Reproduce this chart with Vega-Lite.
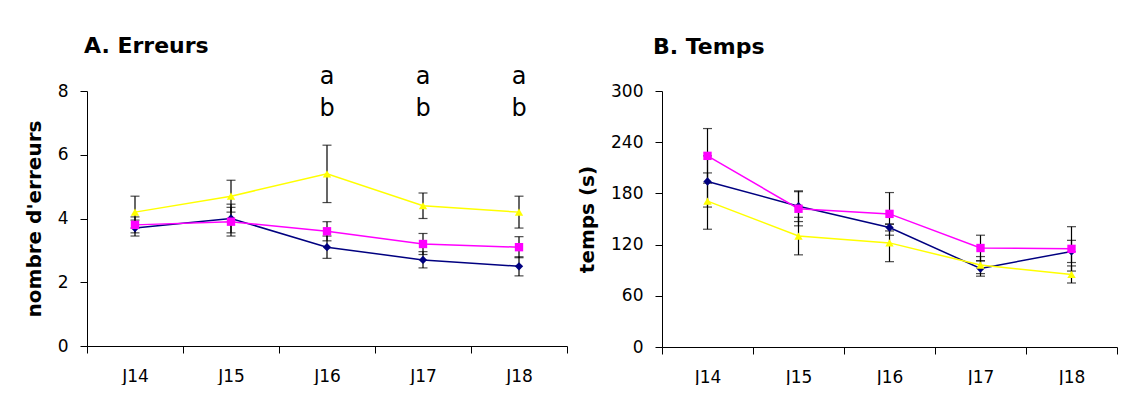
{
  "$schema": "https://vega.github.io/schema/vega-lite/v6.json",
  "padding": {"left": 24, "top": 34, "right": 0, "bottom": 0},
  "background": "white",
  "spacing": 9,
  "config": {
    "view": {"stroke": null},
    "font": "DejaVu Sans",
    "axis": {
      "domainColor": "black", "tickColor": "black", "labelColor": "black", "titleColor": "black",
      "labelFont": "DejaVu Sans", "labelFontSize": 17, "titleFont": "DejaVu Sans", "titleFontSize": 20,
      "titleFontWeight": "bold", "grid": false, "tickSize": 7, "domainWidth": 1, "tickWidth": 1
    },
    "title": {"font": "DejaVu Sans", "fontSize": 22, "fontWeight": "bold", "color": "black", "anchor": "start", "frame": "group"}
  },
  "datasets": {
    "A": [
      {"day": "J14", "grp": "G1", "mean": 3.7, "lo": 3.45, "hi": 3.95},
      {"day": "J15", "grp": "G1", "mean": 4.0, "lo": 3.55, "hi": 4.45},
      {"day": "J16", "grp": "G1", "mean": 3.1, "lo": 2.75, "hi": 3.45},
      {"day": "J17", "grp": "G1", "mean": 2.7, "lo": 2.45, "hi": 2.96},
      {"day": "J18", "grp": "G1", "mean": 2.5, "lo": 2.2, "hi": 2.8},
      {"day": "J14", "grp": "G2", "mean": 3.8, "lo": 3.55, "hi": 4.05},
      {"day": "J15", "grp": "G2", "mean": 3.9, "lo": 3.45, "hi": 4.35},
      {"day": "J16", "grp": "G2", "mean": 3.6, "lo": 3.3, "hi": 3.9},
      {"day": "J17", "grp": "G2", "mean": 3.2, "lo": 2.87, "hi": 3.53},
      {"day": "J18", "grp": "G2", "mean": 3.1, "lo": 2.77, "hi": 3.43},
      {"day": "J14", "grp": "G3", "mean": 4.2, "lo": 3.7, "hi": 4.7},
      {"day": "J15", "grp": "G3", "mean": 4.7, "lo": 4.2, "hi": 5.2},
      {"day": "J16", "grp": "G3", "mean": 5.4, "lo": 4.5, "hi": 6.3},
      {"day": "J17", "grp": "G3", "mean": 4.4, "lo": 4.0, "hi": 4.8},
      {"day": "J18", "grp": "G3", "mean": 4.2, "lo": 3.7, "hi": 4.7}
    ],
    "B": [
      {"day": "J14", "grp": "G1", "mean": 194, "lo": 164, "hi": 224},
      {"day": "J15", "grp": "G1", "mean": 165, "lo": 147, "hi": 183},
      {"day": "J16", "grp": "G1", "mean": 140, "lo": 136, "hi": 144},
      {"day": "J17", "grp": "G1", "mean": 92, "lo": 83, "hi": 101},
      {"day": "J18", "grp": "G1", "mean": 112, "lo": 99, "hi": 125},
      {"day": "J14", "grp": "G2", "mean": 224, "lo": 192, "hi": 256},
      {"day": "J15", "grp": "G2", "mean": 162, "lo": 142, "hi": 182},
      {"day": "J16", "grp": "G2", "mean": 156, "lo": 131, "hi": 181},
      {"day": "J17", "grp": "G2", "mean": 116, "lo": 101, "hi": 131},
      {"day": "J18", "grp": "G2", "mean": 115, "lo": 89, "hi": 141},
      {"day": "J14", "grp": "G3", "mean": 171, "lo": 138, "hi": 204},
      {"day": "J15", "grp": "G3", "mean": 130, "lo": 108, "hi": 152},
      {"day": "J16", "grp": "G3", "mean": 122, "lo": 100, "hi": 144},
      {"day": "J17", "grp": "G3", "mean": 96, "lo": 86, "hi": 106},
      {"day": "J18", "grp": "G3", "mean": 85, "lo": 75, "hi": 95}
    ],
    "sig": [
      {"day": "J16", "top": "a", "bottom": "b"},
      {"day": "J17", "top": "a", "bottom": "b"},
      {"day": "J18", "top": "a", "bottom": "b"}
    ]
  },
  "hconcat": [
    {
      "width": 480, "height": 255,
      "title": {"text": "A. Erreurs", "offset": 7, "dx": -3},
      "encoding": {
        "x": {"field": "day", "type": "ordinal",
              "scale": {"type": "band", "paddingInner": 0, "paddingOuter": 0},
              "axis": {"title": null, "labelAngle": 0, "tickBand": "extent", "labelPadding": 15}}
      },
      "layer": [
        {"data": {"name": "A"}, "mark": {"type": "rule", "color": "black", "strokeWidth": 1.2},
         "encoding": {"y": {"field": "lo", "type": "quantitative",
                            "scale": {"domain": [0, 8], "nice": false},
                            "axis": {"values": [0, 2, 4, 6, 8], "title": "nombre d'erreurs", "labelPadding": 12, "titlePadding": 13}},
                      "y2": {"field": "hi"}}},
        {"data": {"name": "A"}, "mark": {"type": "tick", "color": "black", "size": 9, "thickness": 1.2, "orient": "horizontal"},
         "encoding": {"y": {"field": "lo", "type": "quantitative"}}},
        {"data": {"name": "A"}, "mark": {"type": "tick", "color": "black", "size": 9, "thickness": 1.2, "orient": "horizontal"},
         "encoding": {"y": {"field": "hi", "type": "quantitative"}}},
        {"data": {"name": "A"}, "mark": {"type": "line", "strokeWidth": 1.5},
         "encoding": {"y": {"field": "mean", "type": "quantitative"},
                      "color": {"field": "grp", "type": "nominal", "scale": {"domain": ["G1", "G2", "G3"], "range": ["#000080", "#FF00FF", "#FFFF00"]}, "legend": null}}},
        {"data": {"name": "A"}, "mark": {"type": "point", "filled": true, "opacity": 1, "size": 70},
         "encoding": {"y": {"field": "mean", "type": "quantitative"},
                      "color": {"field": "grp", "type": "nominal", "legend": null},
                      "shape": {"field": "grp", "type": "nominal", "scale": {"domain": ["G1", "G2", "G3"], "range": ["diamond", "square", "triangle-up"]}, "legend": null}}},
        {"data": {"name": "sig"}, "mark": {"type": "text", "fontSize": 24, "font": "DejaVu Sans", "baseline": "alphabetic", "align": "center", "color": "black"},
         "encoding": {"y": {"datum": 8.22, "type": "quantitative"}, "text": {"field": "top"}}},
        {"data": {"name": "sig"}, "mark": {"type": "text", "fontSize": 24, "font": "DejaVu Sans", "baseline": "alphabetic", "align": "center", "color": "black"},
         "encoding": {"y": {"datum": 7.22, "type": "quantitative"}, "text": {"field": "bottom"}}}
      ]
    },
    {
      "width": 455, "height": 256,
      "title": {"text": "B. Temps", "offset": 23, "dx": -9},
      "data": {"name": "B"},
      "encoding": {
        "x": {"field": "day", "type": "ordinal",
              "scale": {"type": "band", "paddingInner": 0, "paddingOuter": 0},
              "axis": {"title": null, "labelAngle": 0, "tickBand": "extent", "labelPadding": 15}}
      },
      "layer": [
        {"mark": {"type": "rule", "color": "black", "strokeWidth": 1.2},
         "encoding": {"y": {"field": "lo", "type": "quantitative",
                            "scale": {"domain": [0, 300], "nice": false},
                            "axis": {"values": [0, 60, 120, 180, 240, 300], "title": "temps (s)", "labelPadding": 12, "titlePadding": 13}},
                      "y2": {"field": "hi"}}},
        {"mark": {"type": "tick", "color": "black", "size": 9, "thickness": 1.2, "orient": "horizontal"},
         "encoding": {"y": {"field": "lo", "type": "quantitative"}}},
        {"mark": {"type": "tick", "color": "black", "size": 9, "thickness": 1.2, "orient": "horizontal"},
         "encoding": {"y": {"field": "hi", "type": "quantitative"}}},
        {"mark": {"type": "line", "strokeWidth": 1.5},
         "encoding": {"y": {"field": "mean", "type": "quantitative"},
                      "color": {"field": "grp", "type": "nominal", "scale": {"domain": ["G1", "G2", "G3"], "range": ["#000080", "#FF00FF", "#FFFF00"]}, "legend": null}}},
        {"mark": {"type": "point", "filled": true, "opacity": 1, "size": 70},
         "encoding": {"y": {"field": "mean", "type": "quantitative"},
                      "color": {"field": "grp", "type": "nominal", "legend": null},
                      "shape": {"field": "grp", "type": "nominal", "scale": {"domain": ["G1", "G2", "G3"], "range": ["diamond", "square", "triangle-up"]}, "legend": null}}}
      ]
    }
  ]
}
